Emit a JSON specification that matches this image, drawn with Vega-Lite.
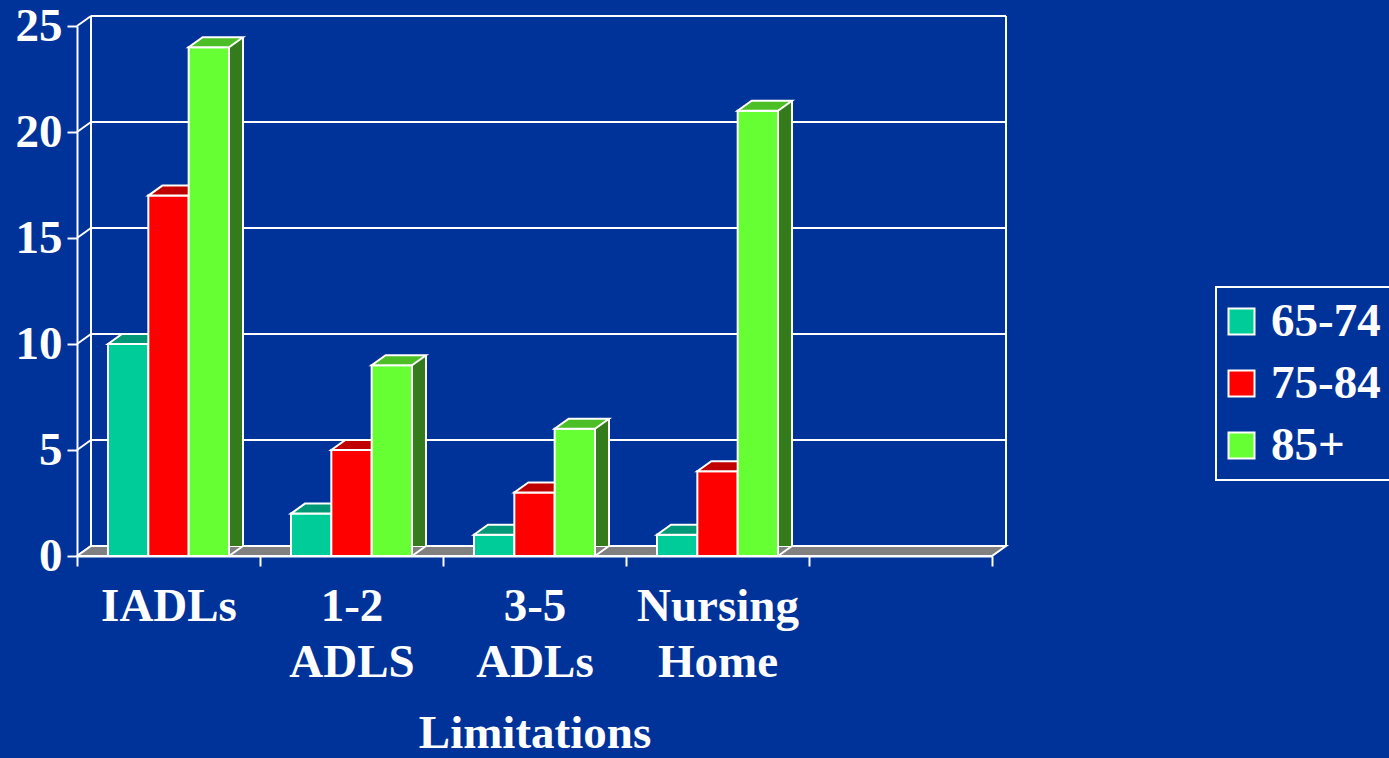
{
  "$schema": "https://vega.github.io/schema/vega-lite/v6.json",
  "width": 929,
  "height": 540,
  "autosize": {"type": "none"},
  "padding": {"left": 77, "top": 16, "right": 383, "bottom": 202},
  "background": "#003399",
  "config": {
    "view": {"stroke": null},
    "font": "Liberation Serif",
    "axis": {
      "grid": false,
      "domainColor": "white", "domainWidth": 2,
      "tickColor": "white", "tickWidth": 2, "tickSize": 10,
      "labelFont": "Liberation Serif", "labelFontSize": 47, "labelFontWeight": "bold", "labelColor": "white",
      "titleFont": "Liberation Serif", "titleFontSize": 47, "titleFontWeight": "bold", "titleColor": "white"
    },
    "axisY": {"tickCount": 5, "labelPadding": 5},
    "axisX": {
      "tickBand": "extent", "labelAngle": 0, "labelLineHeight": 56, "labelPadding": 17,
      "labelOverlap": false, "labelBound": false, "labelFlush": false, "titlePadding": 25
    },
    "legend": {
      "orient": "none",
      "legendX": 1139,
      "legendY": 271,
      "title": null,
      "symbolType": "square",
      "symbolSize": 676,
      "symbolStrokeColor": "white",
      "symbolStrokeWidth": 2,
      "symbolOpacity": 1,
      "symbolOffset": -9,
      "labelFont": "Liberation Serif",
      "labelFontSize": 47,
      "labelFontWeight": "bold",
      "labelColor": "white",
      "labelOffset": 6,
      "rowPadding": 14,
      "padding": 11,
      "strokeColor": "white",
      "strokeWidth": 2
    }
  },
  "datasets": {
    "bars": [
      {"cat": "IADLs", "series": "65-74", "value": 10},
      {"cat": "IADLs", "series": "75-84", "value": 17},
      {"cat": "IADLs", "series": "85+", "value": 24},
      {"cat": "1-2 ADLS", "series": "65-74", "value": 2},
      {"cat": "1-2 ADLS", "series": "75-84", "value": 5},
      {"cat": "1-2 ADLS", "series": "85+", "value": 9},
      {"cat": "3-5 ADLs", "series": "65-74", "value": 1},
      {"cat": "3-5 ADLs", "series": "75-84", "value": 3},
      {"cat": "3-5 ADLs", "series": "85+", "value": 6},
      {"cat": "Nursing Home", "series": "65-74", "value": 1},
      {"cat": "Nursing Home", "series": "75-84", "value": 4},
      {"cat": "Nursing Home", "series": "85+", "value": 21}
    ],
    "ticks": [{"v": 0}, {"v": 5}, {"v": 10}, {"v": 15}, {"v": 20}, {"v": 25}]
  },
  "layer": [
    {
      "description": "back wall gridlines, shifted into depth",
      "data": {"name": "ticks"},
      "mark": {"type": "rule", "color": "white", "strokeWidth": 2, "xOffset": 14, "x2Offset": 14, "yOffset": -10},
      "encoding": {
        "x": {"datum": "IADLs", "type": "nominal", "bandPosition": 0, "title": "Limitations",
              "scale": {"domain": ["IADLs", "1-2 ADLS", "3-5 ADLs", "Nursing Home", " "], "range": [0, 915], "paddingInner": 0, "paddingOuter": 0}},
        "x2": {"datum": " ", "bandPosition": 1},
        "y": {"field": "v", "type": "quantitative", "title": null,
              "scale": {"domain": [0, 25], "range": [540, 10], "nice": false, "zero": true}}
      }
    },
    {
      "description": "back wall left edge",
      "data": {"values": [{}]},
      "mark": {"type": "rule", "color": "white", "strokeWidth": 2, "xOffset": 14, "yOffset": -10, "y2Offset": -10},
      "encoding": {
        "x": {"datum": "IADLs", "type": "nominal", "bandPosition": 0, "title": "Limitations",
              "scale": {"domain": ["IADLs", "1-2 ADLS", "3-5 ADLs", "Nursing Home", " "], "range": [0, 915], "paddingInner": 0, "paddingOuter": 0}},
        "y": {"datum": 0, "type": "quantitative", "title": null, "scale": {"domain": [0, 25], "range": [540, 10], "nice": false, "zero": true}},
        "y2": {"datum": 25}
      }
    },
    {
      "description": "back wall right edge",
      "data": {"values": [{}]},
      "mark": {"type": "rule", "color": "white", "strokeWidth": 2, "xOffset": 14, "yOffset": -10, "y2Offset": -10},
      "encoding": {
        "x": {"datum": " ", "type": "nominal", "bandPosition": 1, "title": "Limitations",
              "scale": {"domain": ["IADLs", "1-2 ADLS", "3-5 ADLs", "Nursing Home", " "], "range": [0, 915], "paddingInner": 0, "paddingOuter": 0}},
        "y": {"datum": 0, "type": "quantitative", "title": null, "scale": {"domain": [0, 25], "range": [540, 10], "nice": false, "zero": true}},
        "y2": {"datum": 25}
      }
    },
    {
      "description": "diagonal links from front axis ticks to back wall",
      "data": {"name": "ticks"},
      "mark": {"type": "point", "shape": "M0,0L1.4,-1", "size": 400, "filled": false, "stroke": "white", "strokeWidth": 2, "opacity": 1},
      "encoding": {
        "x": {"datum": "IADLs", "type": "nominal", "bandPosition": 0, "title": "Limitations",
              "scale": {"domain": ["IADLs", "1-2 ADLS", "3-5 ADLs", "Nursing Home", " "], "range": [0, 915], "paddingInner": 0, "paddingOuter": 0}},
        "y": {"field": "v", "type": "quantitative", "title": null, "scale": {"domain": [0, 25], "range": [540, 10], "nice": false, "zero": true}}
      }
    },
    {
      "description": "floor slab",
      "data": {"values": [{}]},
      "mark": {"type": "point", "shape": "M0,0L91.5,0L92.9,-1L1.4,-1Z", "size": 400, "filled": true, "fill": "#808080", "stroke": "white", "strokeWidth": 2, "opacity": 1},
      "encoding": {
        "x": {"datum": "IADLs", "type": "nominal", "bandPosition": 0, "title": "Limitations",
              "scale": {"domain": ["IADLs", "1-2 ADLS", "3-5 ADLs", "Nursing Home", " "], "range": [0, 915], "paddingInner": 0, "paddingOuter": 0}},
        "y": {"datum": 0, "type": "quantitative", "title": null, "scale": {"domain": [0, 25], "range": [540, 10], "nice": false, "zero": true}}
      }
    },
    {
      "description": "65-74 columns: side, side edge, floor notch, front, top",
      "data": {"name": "bars"},
      "transform": [{"filter": "datum.series === '65-74'"}],
      "encoding": {
        "x": {"field": "cat", "type": "nominal", "title": "Limitations",
              "scale": {"domain": ["IADLs", "1-2 ADLS", "3-5 ADLs", "Nursing Home", " "], "range": [0, 915], "paddingInner": 0, "paddingOuter": 0},
              "axis": {"labelExpr": "split(datum.label, ' ')"}},
        "y": {"field": "value", "type": "quantitative", "title": null, "scale": {"domain": [0, 25], "range": [540, 10], "nice": false, "zero": true}}
      },
      "layer": [
        {"mark": {"type": "bar", "width": 14, "xOffset": -13.17, "yOffset": -10, "color": "#007755", "strokeWidth": 0}},
        {"mark": {"type": "rule", "color": "white", "strokeWidth": 2, "xOffset": -6.17, "yOffset": -10, "y2Offset": -10},
         "encoding": {"y2": {"datum": 0}}},
        {"mark": {"type": "point", "shape": "M1.4,0L0,0L1.4,-1", "size": 400, "filled": true, "fill": "#808080", "stroke": "white", "strokeWidth": 2, "opacity": 1, "xOffset": -20.17},
         "encoding": {"y": {"datum": 0, "type": "quantitative", "title": null, "scale": {"domain": [0, 25], "range": [540, 10], "nice": false, "zero": true}}}},
        {"mark": {"type": "bar", "width": 40.34, "xOffset": -40.34, "stroke": "white", "strokeWidth": 2},
         "encoding": {"color": {"field": "series", "type": "nominal", "scale": {"domain": ["65-74", "75-84", "85+"], "range": ["#00CC99", "#FF0000", "#66FF33"]}}}},
        {"mark": {"type": "point", "shape": "M-2.017,0L2.017,0L3.417,-1L-0.617,-1Z", "size": 400, "filled": true, "fill": "#009977", "stroke": "white", "strokeWidth": 2, "opacity": 1, "xOffset": -40.34}}
      ]
    },
    {
      "description": "75-84 columns: side, side edge, floor notch, front, top",
      "data": {"name": "bars"},
      "transform": [{"filter": "datum.series === '75-84'"}],
      "encoding": {
        "x": {"field": "cat", "type": "nominal", "title": "Limitations",
              "scale": {"domain": ["IADLs", "1-2 ADLS", "3-5 ADLs", "Nursing Home", " "], "range": [0, 915], "paddingInner": 0, "paddingOuter": 0},
              "axis": {"labelExpr": "split(datum.label, ' ')"}},
        "y": {"field": "value", "type": "quantitative", "title": null, "scale": {"domain": [0, 25], "range": [540, 10], "nice": false, "zero": true}}
      },
      "layer": [
        {"mark": {"type": "bar", "width": 14, "xOffset": 27.17, "yOffset": -10, "color": "#990000", "strokeWidth": 0}},
        {"mark": {"type": "rule", "color": "white", "strokeWidth": 2, "xOffset": 34.17, "yOffset": -10, "y2Offset": -10},
         "encoding": {"y2": {"datum": 0}}},
        {"mark": {"type": "point", "shape": "M1.4,0L0,0L1.4,-1", "size": 400, "filled": true, "fill": "#808080", "stroke": "white", "strokeWidth": 2, "opacity": 1, "xOffset": 20.17},
         "encoding": {"y": {"datum": 0, "type": "quantitative", "title": null, "scale": {"domain": [0, 25], "range": [540, 10], "nice": false, "zero": true}}}},
        {"mark": {"type": "bar", "width": 40.34, "xOffset": 0, "stroke": "white", "strokeWidth": 2},
         "encoding": {"color": {"field": "series", "type": "nominal", "scale": {"domain": ["65-74", "75-84", "85+"], "range": ["#00CC99", "#FF0000", "#66FF33"]}}}},
        {"mark": {"type": "point", "shape": "M-2.017,0L2.017,0L3.417,-1L-0.617,-1Z", "size": 400, "filled": true, "fill": "#C00000", "stroke": "white", "strokeWidth": 2, "opacity": 1, "xOffset": 0}}
      ]
    },
    {
      "description": "85+ columns: side, side edge, floor notch, front, top",
      "data": {"name": "bars"},
      "transform": [{"filter": "datum.series === '85+'"}],
      "encoding": {
        "x": {"field": "cat", "type": "nominal", "title": "Limitations",
              "scale": {"domain": ["IADLs", "1-2 ADLS", "3-5 ADLs", "Nursing Home", " "], "range": [0, 915], "paddingInner": 0, "paddingOuter": 0},
              "axis": {"labelExpr": "split(datum.label, ' ')"}},
        "y": {"field": "value", "type": "quantitative", "title": null, "scale": {"domain": [0, 25], "range": [540, 10], "nice": false, "zero": true}}
      },
      "layer": [
        {"mark": {"type": "bar", "width": 14, "xOffset": 67.51, "yOffset": -10, "color": "#347C1B", "strokeWidth": 0}},
        {"mark": {"type": "rule", "color": "white", "strokeWidth": 2, "xOffset": 74.51, "yOffset": -10, "y2Offset": -10},
         "encoding": {"y2": {"datum": 0}}},
        {"mark": {"type": "point", "shape": "M1.4,0L0,0L1.4,-1", "size": 400, "filled": true, "fill": "#808080", "stroke": "white", "strokeWidth": 2, "opacity": 1, "xOffset": 60.51},
         "encoding": {"y": {"datum": 0, "type": "quantitative", "title": null, "scale": {"domain": [0, 25], "range": [540, 10], "nice": false, "zero": true}}}},
        {"mark": {"type": "bar", "width": 40.34, "xOffset": 40.34, "stroke": "white", "strokeWidth": 2},
         "encoding": {"color": {"field": "series", "type": "nominal", "scale": {"domain": ["65-74", "75-84", "85+"], "range": ["#00CC99", "#FF0000", "#66FF33"]}}}},
        {"mark": {"type": "point", "shape": "M-2.017,0L2.017,0L3.417,-1L-0.617,-1Z", "size": 400, "filled": true, "fill": "#4DBF26", "stroke": "white", "strokeWidth": 2, "opacity": 1, "xOffset": 40.34}}
      ]
    }
  ]
}
